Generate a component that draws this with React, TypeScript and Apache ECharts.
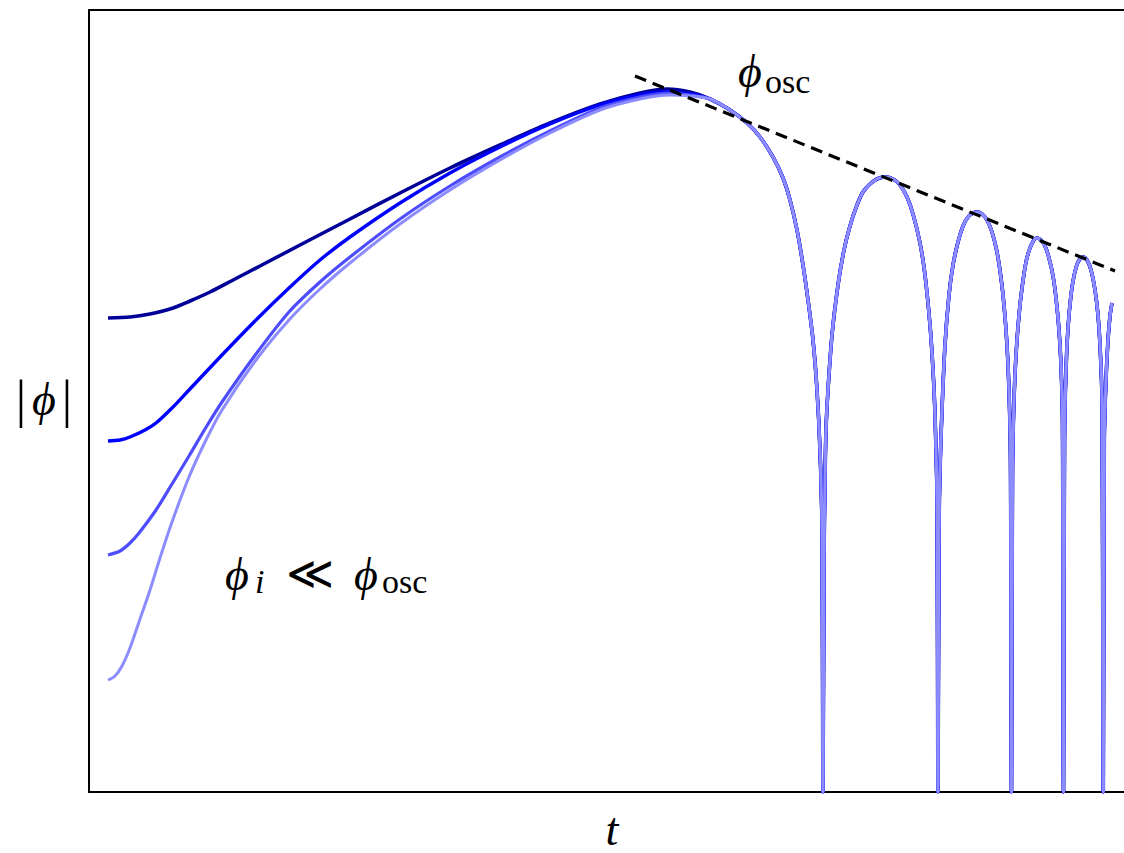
import React, { useEffect, useRef } from "react";
import * as echarts from "echarts";

// t (arbitrary units), |phi| (arbitrary units, log-like display)
const darkEarly: number[][] = [
  [1.9, 47.4], [4.1, 47.5], [6.1, 47.8], [8.1, 48.3], [10.1, 49.1], [12.1, 50.0],
  [14.6, 51.3], [17.1, 52.6], [21.1, 54.7], [26.1, 57.3], [31.1, 59.9], [36.1, 62.4],
  [41.1, 64.7], [46.1, 66.9], [51.1, 68.8], [55.1, 69.9], [57.8, 70.3], [60.1, 70.0],
];
const blueEarly: number[][] = [
  [1.9, 35.1], [3.1, 35.2], [4.1, 35.5], [5.6, 36.2], [6.7, 36.9], [8.3, 38.4],
  [10.0, 40.2], [13.3, 43.7], [16.7, 47.2], [20.0, 50.4], [23.1, 53.2], [26.1, 55.5],
  [31.1, 58.9], [36.1, 61.9], [41.1, 64.5], [46.1, 66.8], [51.1, 68.7], [55.1, 69.7],
  [57.8, 70.0], [60.1, 69.8],
];
const mediumEarly: number[][] = [
  [1.9, 23.7], [3.1, 24.1], [4.1, 24.9], [5.0, 25.9], [6.7, 28.2], [8.3, 30.8],
  [10.0, 33.6], [11.6, 36.3], [13.3, 39.0], [16.7, 43.8], [20.0, 48.0], [23.1, 51.0],
  [26.1, 53.5], [31.1, 57.3], [36.1, 60.6], [41.1, 63.5], [46.1, 66.1], [51.1, 68.4],
  [55.1, 69.5], [58.1, 69.9], [60.1, 69.7],
];
const lightEarly: number[][] = [
  [1.9, 11.2], [2.6, 11.6], [3.3, 12.6], [4.1, 14.4], [5.0, 17.0], [6.1, 20.2],
  [7.1, 23.4], [8.3, 27.0], [10.0, 31.5], [11.6, 35.0], [13.3, 38.2], [16.7, 43.2],
  [20.0, 47.2], [23.1, 50.3], [26.1, 52.9], [31.1, 56.8], [36.1, 60.2], [41.1, 63.2],
  [46.1, 65.9], [51.1, 68.2], [55.1, 69.3], [58.1, 69.7], [60.1, 69.6],
];
const oscTail: number[][] = [
  [62.1, 69.3], [64.1, 68.2], [65.8, 66.9], [67.1, 65.5], [68.4, 63.5], [69.4, 61.4],
  [70.1, 59.2], [70.8, 56.2], [71.4, 52.7], [71.9, 49.2], [72.4, 45.2], [72.8, 40.2],
  [73.1, 34.2], [73.3, 26.2], [73.4, 0],
  [73.5, 23.2], [73.6, 31.2], [73.7, 36.2], [73.9, 40.2], [74.3, 45.7], [74.9, 50.7],
  [75.5, 54.2], [76.1, 56.6], [76.8, 58.7], [77.4, 60.0], [78.1, 60.8], [78.8, 61.3],
  [79.6, 61.5], [80.4, 61.3], [81.1, 60.7], [81.8, 59.5], [82.4, 57.8], [83.1, 54.9],
  [83.6, 51.7], [84.1, 46.7], [84.4, 42.2], [84.6, 37.7], [84.8, 29.2], [84.9, 0],
  [85.0, 26.2], [85.1, 32.2], [85.3, 38.2], [85.6, 44.7], [86.0, 49.7], [86.4, 52.7],
  [86.9, 55.0], [87.4, 56.6], [87.9, 57.5], [88.4, 57.9], [88.8, 58.0], [89.3, 57.8],
  [89.8, 57.2], [90.3, 56.0], [90.8, 54.0], [91.2, 51.4], [91.5, 48.7], [91.8, 44.7],
  [92.0, 40.2], [92.15, 33.2], [92.25, 0],
  [92.35, 32.2], [92.5, 39.2], [92.7, 43.7], [93.0, 47.7], [93.3, 50.4], [93.7, 53.0],
  [94.1, 54.4], [94.5, 55.2], [94.8, 55.4], [95.2, 55.2], [95.6, 54.6], [96.0, 53.4],
  [96.4, 51.6], [96.7, 49.4], [97.0, 46.2], [97.2, 42.7], [97.35, 37.2], [97.45, 0],
  [97.55, 35.2], [97.7, 42.2], [97.9, 46.4], [98.2, 49.7], [98.5, 51.6], [98.9, 53.0],
  [99.4, 53.5], [99.8, 53.2], [100.2, 52.2], [100.6, 50.2], [100.9, 47.7], [101.1, 44.7],
  [101.3, 39.2], [101.43, 0],
  [101.53, 35.2], [101.7, 41.2], [101.9, 45.2], [102.1, 47.6], [102.3, 48.9],
];
const envelope: number[][] = [[54.6, 71.6], [102.6, 52.1]];

const seriesColors = ["#000099", "#0000ff", "#4d4dff", "#8c8cff"];
const seriesWidths = [3.6, 3.4, 3.2, 3];
const earlyParts = [darkEarly, blueEarly, mediumEarly, lightEarly];

export default function App() {
  const ref = useRef<HTMLDivElement>(null);
  useEffect(() => {
    if (!ref.current) return;
    const chart = echarts.init(ref.current, null, { renderer: "svg" });
    const axisLine = { show: true, onZero: false, lineStyle: { color: "#000", width: 2 } };
    const hidden = {
      axisTick: { show: false },
      axisLabel: { show: false },
      splitLine: { show: false },
    };
    const series: any[] = earlyParts.map((part, i) => ({
      type: "line",
      data: part.concat(oscTail),
      showSymbol: false,
      smooth: 0.3,
      clip: true,
      lineStyle: { color: seriesColors[i], width: seriesWidths[i] },
      z: 2 + i,
    }));
    series.push({
      type: "line",
      data: envelope,
      showSymbol: false,
      lineStyle: { color: "#000", width: 3.2, type: [12, 7] },
      z: 10,
    });
    const serif = "'Liberation Serif', 'DejaVu Serif', serif";
    const txt = (x: number, y: number, text: string, fontSize: number, italic: boolean, align = "center") => ({
      type: "text",
      x,
      y,
      style: {
        text,
        fontSize,
        fontStyle: italic ? "italic" : "normal",
        fontFamily: serif,
        fill: "#000",
        align,
        verticalAlign: "middle",
      },
    });
    chart.setOption({
      animation: false,
      grid: { left: 89, top: 10, right: 0, bottom: 61 },
      xAxis: [
        { type: "value", min: 0, max: 103.5, axisLine, ...hidden },
        { type: "value", min: 0, max: 103.5, position: "top", axisLine, ...hidden },
      ],
      yAxis: { type: "value", min: 0, max: 78.2, axisLine, ...hidden },
      series,
      graphic: [
        txt(21, 399, "|", 52, false),
        txt(44, 399, "ϕ", 46, true),
        txt(67, 399, "|", 52, false),
        txt(612, 829, "t", 46, true),
        txt(750, 71, "ϕ", 46, true),
        txt(765, 81, "osc", 34, false, "left"),
        txt(237, 574, "ϕ", 46, true),
        txt(255, 581, "i", 34, true, "left"),
        txt(310, 573, "≪", 46, false),
        txt(366, 574, "ϕ", 46, true),
        txt(382, 581, "osc", 34, false, "left"),
      ],
    });
    return () => chart.dispose();
  }, []);
  return (
    <div
      ref={ref}
      style={{ position: "absolute", left: 0, top: 0, width: 1124, height: 853, background: "#fff" }}
    />
  );
}
